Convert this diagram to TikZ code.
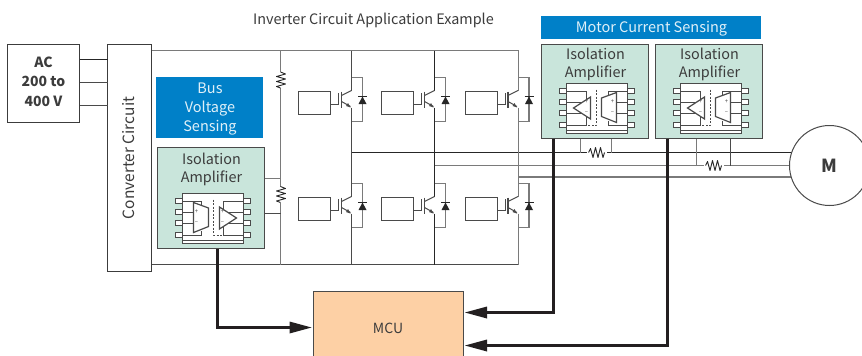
\documentclass[tikz,border=0pt]{standalone}
\usepackage{fontspec}
\setmainfont{Noto Sans CJK JP}
\usetikzlibrary{calc}
\definecolor{ink}{HTML}{3C3C3C}
\definecolor{wirek}{HTML}{4A4A4A}
\definecolor{wireg}{HTML}{7A7A7A}
\definecolor{thick}{HTML}{231F20}
\definecolor{bluebox}{HTML}{0080C8}
\definecolor{mint}{HTML}{C9E5DB}
\definecolor{peach}{HTML}{FDD0A5}
\tikzset{
  lab/.style={text=ink,font=\fontsize{14.4}{18}\selectfont,align=center,inner sep=0pt},
  plainbox/.style={draw=wirek,line width=1pt,fill=white,inner sep=0pt,outer sep=0pt,anchor=north west},
  bluelabel/.style={fill=bluebox,inner sep=0pt,outer sep=0pt,anchor=north west},
  bluetext/.style={text=white!88!bluebox,font=\fontsize{14.5}{19}\selectfont,align=center,inner sep=0pt},
  isobox/.style={draw=wirek,line width=1.4pt,fill=mint,inner sep=0pt,outer sep=0pt,anchor=north west,minimum width=107pt},
  wa/.style={draw=wirek,line width=1pt},
  wb/.style={draw=wireg,line width=1.5pt},
  wc/.style={draw=black!85,line width=1pt},
  sig/.style={draw=thick,line width=2.4pt,line join=miter},
  tipped/.style={fill=thick,draw=none},
  chipline/.style={draw=wirek,line width=1pt},
  pm/.style={text=wirek,font=\fontsize{6}{6}\selectfont,inner sep=0pt},
  pics/resv/.style={code={
    \draw[white,line width=2pt] (0,-8)--(0,8);
    \draw[draw=black!85,line width=.9pt,line join=round] (0,-8)--(5,-6)--(-4,-3.5)--(5,-1)--(-4,1.5)--(5,4)--(-4,6.5)--(0,8);
  }},
  pics/resh/.style={code={
    \draw[white,line width=2pt] (-10,0)--(10,0);
    \draw[draw=black!85,line width=.9pt,line join=round] (-8,0)--(-6,-4)--(-3.5,5)--(-1,-5)--(1.5,5)--(4,-5)--(6.5,5)--(8,0);
  }},
  pics/igbt/.style={code={
    \node[plainbox,minimum width=32pt,minimum height=23pt] (box) at (-53,91) {};
    \draw[wa] (box.east |- 0,104) -- (-13,104) -- (-13,92);
    \draw[wa,line width=1.2pt] (-10,91) -- (-10,107);
    \draw[wa] (-10,95) -- (0,90);
    \draw[wa] (-10,101) -- (-1,106);
    \fill[wirek] (-1,107) -- (-5.5,105.5) -- (-3.5,102.5) -- cycle;
    \draw[wb,line width=1.2pt] (0,77) -- (11,77) -- (11,121) -- (0,121);
    \fill[black!85] (7,103.5) -- (15,103.5) -- (11,96) -- cycle;
    \draw[black!85,line width=1.2pt] (6.5,96) -- (15.5,96);
  }},
  pics/chip/.style={code={
    % origin at the chip centre, drawn in the orientation of the bus amplifier
    \foreach \py in {-17.5,-6.5,4.5,16.5}{
      \draw[chipline,fill=white] (-37.5,\py-2.7) rectangle (-30.5,\py+2.7);
      \draw[chipline,fill=white] (30.5,\py-2.7) rectangle (37.5,\py+2.7);
    }
    \draw[chipline,fill=white] (-30.5,-25) rectangle (30.5,25);
    \draw[chipline] (-30.5,-17.5) -- (-11.5,-17.5) -- (-11.5,-12);
    \draw[chipline] (-30.5,-6.5) -- (-19.5,-6.5);
    \draw[chipline] (-30.5,4.5) -- (-19.5,4.5);
    \draw[chipline] (-30.5,16.5) -- (-11.5,16.5) -- (-11.5,12);
    \draw[draw=wirek,line width=1.2pt,fill=white] (-19.5,-16) -- (-4.5,-10.5) -- (-4.5,8) -- (-19.5,14) -- cycle;
    \draw[draw=wirek,line width=.9pt,dash pattern=on 2pt off 1.5pt] (.5,-19) -- (.5,16.5) -- (9.5,16.5);
    \draw[chipline] (30.5,-17.5) -- (10.5,-17.5) -- (10.5,-9);
    \draw[chipline] (30.5,-6.5) -- (15,-6.5);
    \draw[chipline] (30.5,4.5) -- (15,4.5);
    \draw[chipline] (30.5,16.5) -- (10.5,16.5) -- (10.5,8);
    \draw[draw=wirek,line width=1.2pt,fill=white] (6.5,-11.5) -- (23.5,-.5) -- (6.5,10.5) -- cycle;
    \draw[chipline] (-30.5,22) -- (30.5,22);
  }}
}
\begin{document}
\begin{tikzpicture}[x=1pt,y=-1pt]
\clip (0,0) rectangle (862,356);
\fill[white] (0,0) rectangle (862,356);
\begin{scope}[shift={(.5,.5)}]

\node[lab,font=\fontsize{14.4}{16}\selectfont] (title) at (373,19.5) {Inverter Circuit Application Example};

% three-phase horizontal lines and motor
\draw[wb] (518,176.5) coordinate (phw) -- (800,176.5) coordinate (phwe);
\draw[wb] (434,165) coordinate (phv) -- (795,165) coordinate (phve);
\draw[wc] (351,152) coordinate (phu) -- (795,152) coordinate (phue);

% buses
\draw[wb] (151,50) coordinate (bt) -- (518,50) coordinate (btr);
\draw[wa] (151,264) coordinate (bb) -- (518,264) coordinate (bbr);
\draw[wb,line width=1.2pt] (280,50) coordinate (rt) -- (280,264) coordinate (rb);
\pic (r1) at (280,79.5) {resv};
\pic (r2) at (280,194) {resv};

% IGBT columns
\draw[wa,line width=1.2pt] (351,50) -- (351,90) (351,107) -- (351,196) (351,213) -- (351,264);
\draw[wc] (434,50) -- (434,90) (434,107) -- (434,196) (434,213) -- (434,264);
\draw[wb,line width=1.3pt] (518,50) -- (518,90) (518,107) -- (518,196) (518,213) -- (518,264);
\pic (qa) at (351,0) {igbt};
\pic (qb) at (434,0) {igbt};
\pic (qc) at (517.5,0) {igbt};
\pic (qd) at (351,106) {igbt};
\pic (qe) at (434,106) {igbt};
\pic (qf) at (517.5,106) {igbt};

% source and converter
\node[plainbox,draw=ink,minimum width=72pt,minimum height=78pt] (ac) at (7,44) {};
\node[lab,font=\fontsize{14}{19.5}\selectfont\bfseries] (aclab) at (43,81) {AC\\200 to\\400 V};
\node[plainbox,draw=ink,minimum width=44pt,minimum height=227pt] (conv) at (107,44) {};
\node[lab,rotate=90,font=\fontsize{15.5}{18}\selectfont] (convlab) at (128,157.5) {Converter Circuit};
\draw[wc] (ac.east |- 0,59) -- (conv.west |- 0,59);
\draw[wa] (ac.east |- 0,82) -- (conv.west |- 0,82);
\draw[wa] (ac.east |- 0,105) -- (conv.west |- 0,105);

% bus voltage sensing
\node[bluelabel,minimum width=107pt,minimum height=61pt] (busv) at (155.5,76.5) {};
\node[bluetext] (busvlab) at (209.5,108.5) {Bus\\Voltage\\Sensing};
\node[isobox,minimum height=101pt] (isob) at (157,147) {};
\node[lab] (isoblab) at (211,168.5) {Isolation\\Amplifier};
\pic (chipb) at (212.5,218) {chip};
\node[pm] (pb1) at (196,211) {+};
\node[pm] (pb2) at (196,222.5) {--};
\node[pm] (pb3) at (222,211) {+};
\node[pm] (pb4) at (222,222.5) {--};
\draw[wb,line width=1.1pt] (isob.east |- 0,178) -- (rt |- 0,178);
\draw[wa,line width=1.3pt] (isob.east |- 0,213) -- (rt |- 0,213);

% motor current sensing
\node[bluelabel,minimum width=220pt,minimum height=23pt] (mcs) at (540.5,15.5) {};
\node[bluetext] (mcslab) at (651,28.5) {Motor Current Sensing};
\node[isobox,minimum height=94pt] (isoc) at (541,44) {};
\node[isobox,minimum height=94pt] (isod) at (655,44) {};
\node[lab] (isoclab) at (595,63.5) {Isolation\\Amplifier};
\node[lab] (isodlab) at (709,63.5) {Isolation\\Amplifier};
\begin{scope}[shift={(596.5,108)},xscale=-1]
\pic[transform shape] (chipc) at (0,0) {chip};
\end{scope}
\begin{scope}[shift={(710.5,108)},xscale=-1]
\pic[transform shape] (chipd) at (0,0) {chip};
\end{scope}
\node[pm] (pc1) at (586,101) {+};
\node[pm] (pc2) at (586,112.5) {--};
\node[pm] (pc3) at (612,101) {+};
\node[pm] (pc4) at (612,112.5) {--};
\node[pm] (pd1) at (700,101) {+};
\node[pm] (pd2) at (700,112.5) {--};
\node[pm] (pd3) at (726,101) {+};
\node[pm] (pd4) at (726,112.5) {--};

% shunts
\draw[wb,line width=1.1pt] (580,0 |- isoc.south) -- (580,152);
\draw[wb,line width=1.1pt] (611,0 |- isoc.south) -- (611,152);
\draw[wb,line width=1.1pt] (696,0 |- isod.south) -- (696,165);
\draw[wa,line width=1.2pt] (730,0 |- isod.south) -- (730,165);
\pic (s1) at (596,152) {resh};
\pic (s2) at (713,165) {resh};

% motor
\node[draw=wirek,line width=1pt,fill=white,circle,minimum size=80pt,inner sep=0pt] (motor) at (829,165) {};
\node[lab,font=\fontsize{18}{18}\selectfont\bfseries] (mlab) at (829,165) {M};

% MCU and signal lines
\node[plainbox,fill=peach,minimum width=150pt,minimum height=75pt] (mcu) at (313,291) {};
\node[lab,font=\fontsize{14}{16}\selectfont] (mculab) at (387.5,327.5) {MCU};
\coordinate (ta) at (311,327);
\coordinate (tb) at (464.5,312);
\coordinate (tc) at (464.5,345);
\draw[sig] (217,0 |- isob.south) -- (217,327) -- ($(ta)+(-20,0)$);
\fill[tipped] (ta) -- ++(-22,-6) -- ++(0,12) -- cycle;
\draw[sig] (553,0 |- isoc.south) -- (553,312) -- ($(tb)+(20,0)$);
\fill[tipped] (tb) -- ++(22,-6) -- ++(0,12) -- cycle;
\draw[sig] (667,0 |- isod.south) -- (667,345) -- ($(tc)+(20,0)$);
\fill[tipped] (tc) -- ++(22,-6) -- ++(0,12) -- cycle;
\end{scope}
\end{tikzpicture}
\end{document}
